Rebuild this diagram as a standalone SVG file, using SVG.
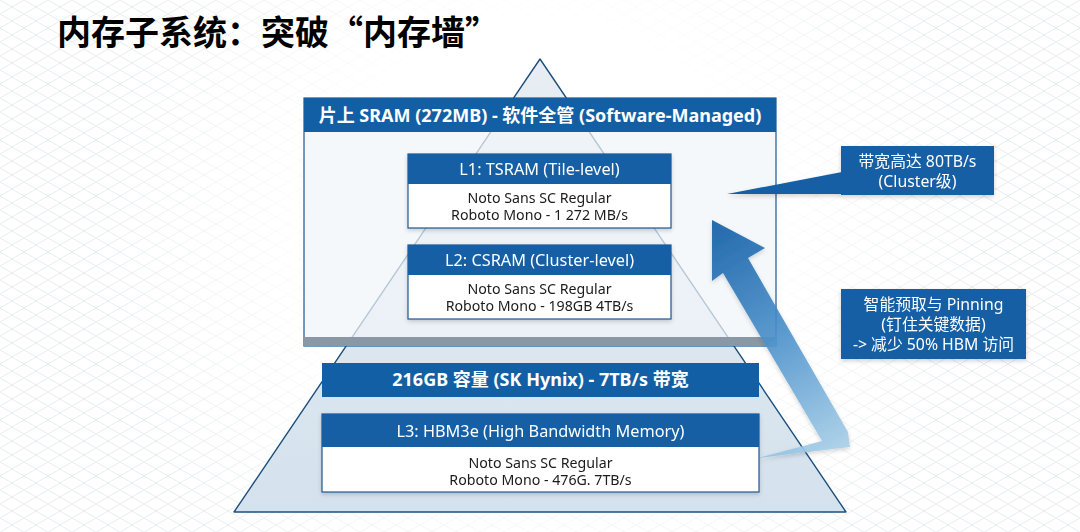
<svg xmlns="http://www.w3.org/2000/svg" width="1080" height="532" viewBox="0 0 1080 532">
<defs>
<style>
.hdr{fill:#135fa5;}
.box{fill:#ffffff;stroke:#1b5690;stroke-width:1.2;}
.t-title{font-family:"Noto Sans CJK SC","Noto Sans",sans-serif;font-weight:700;font-size:34px;fill:#000;}
.t-hb{font-family:"Noto Sans","Noto Sans CJK SC",sans-serif;font-weight:700;font-size:18px;fill:#fff;text-anchor:middle;}
.t-h{font-family:"Noto Sans","Noto Sans CJK SC",sans-serif;font-size:16.3px;fill:#fff;text-anchor:middle;}
.t-b{font-family:"Noto Sans","Noto Sans CJK SC",sans-serif;font-size:14.2px;fill:#1a1a1a;text-anchor:middle;}
.t-c{font-family:"Noto Sans","Noto Sans CJK SC",sans-serif;font-size:15.8px;fill:#fff;text-anchor:middle;}
</style>
<pattern id="grid" width="24" height="14" patternUnits="userSpaceOnUse">
<path d="M0,0 L24,14 M24,0 L0,14" stroke="#e3e7eb" stroke-width="0.8" fill="none"/>
</pattern>
<radialGradient id="fade" cx="540" cy="230" r="560" gradientUnits="userSpaceOnUse">
<stop offset="0.35" stop-color="#000"/>
<stop offset="0.8" stop-color="#fff"/>
</radialGradient>
<mask id="gm"><rect width="1080" height="532" fill="url(#fade)"/></mask>
<linearGradient id="pyr" x1="0" y1="0" x2="0" y2="1">
<stop offset="0" stop-color="#e8eef3"/>
<stop offset="1" stop-color="#d4e2ed"/>
</linearGradient>
<linearGradient id="arr" x1="840" y1="450" x2="715" y2="225" gradientUnits="userSpaceOnUse">
<stop offset="0" stop-color="#a9d0ea"/>
<stop offset="0.5" stop-color="#4d93cc"/>
<stop offset="1" stop-color="#125fa8"/>
</linearGradient>
<filter id="sh" x="-10%" y="-10%" width="120%" height="130%">
<feDropShadow dx="0" dy="2" stdDeviation="2" flood-color="#000" flood-opacity="0.18"/>
</filter>
</defs>

<rect width="1080" height="532" fill="#ffffff"/>
<rect width="1080" height="532" fill="url(#grid)" mask="url(#gm)"/>

<g id="title">
<text class="t-title" x="57" y="45">内存子系统：突破“内存墙”</text>
</g>

<g id="pyramid">
<polygon points="540,59 234,512 846,512" fill="url(#pyr)" stroke="#1d4f7c" stroke-width="1.4" stroke-linejoin="round"/>
</g>

<g id="sram">
<rect x="304" y="98" width="472" height="248" fill="#f1f5f9" fill-opacity="0.72" stroke="#1b5690" stroke-width="1.2"/>
<rect x="304" y="337" width="472" height="9" fill="#8a97a4"/>
<rect x="304" y="98" width="472" height="34" class="hdr"/>
<text class="t-hb" x="540" y="122">片上 SRAM (272MB) - 软件全管 (Software-Managed)</text>
</g>

<g id="l1" filter="url(#sh)">
<rect x="408" y="154" width="263" height="74" class="box"/>
<rect x="408" y="154" width="263" height="30" class="hdr"/>
<text class="t-h" x="539.5" y="175">L1: TSRAM (Tile-level)</text>
<text class="t-b" x="539.5" y="203">Noto Sans SC Regular</text>
<text class="t-b" x="539.5" y="220">Roboto Mono - 1 272 MB/s</text>
</g>

<g id="l2" filter="url(#sh)">
<rect x="408" y="245" width="263" height="74" class="box"/>
<rect x="408" y="245" width="263" height="30" class="hdr"/>
<text class="t-h" x="539.5" y="266">L2: CSRAM (Cluster-level)</text>
<text class="t-b" x="539.5" y="294">Noto Sans SC Regular</text>
<text class="t-b" x="539.5" y="311">Roboto Mono - 198GB 4TB/s</text>
</g>

<g id="connectors">
<polygon points="758,458 822,441 723,273 712,281 712,220 765,248 748,258 848,432 850,447" fill="url(#arr)" fill-opacity="0.9" filter="url(#sh)"/>
</g>

<g id="hbm-band">
<rect x="322" y="363" width="437" height="34" class="hdr"/>
<text class="t-hb" x="540.5" y="386">216GB 容量 (SK Hynix) - 7TB/s 带宽</text>
</g>

<g id="l3" filter="url(#sh)">
<rect x="322" y="414" width="437" height="78" class="box"/>
<rect x="322" y="414" width="437" height="33" class="hdr"/>
<text class="t-h" x="540.5" y="437">L3: HBM3e (High Bandwidth Memory)</text>
<text class="t-b" x="540.5" y="468">Noto Sans SC Regular</text>
<text class="t-b" x="540.5" y="485">Roboto Mono - 476G. 7TB/s</text>
</g>

<g id="callout-bw" filter="url(#sh)">
<polygon points="727,194 842,172 842,194" fill="#135fa5"/>
<rect x="841" y="146" width="153" height="49" class="hdr"/>
<text class="t-c" x="917.5" y="167">带宽高达 80TB/s</text>
<text class="t-c" x="917.5" y="187">(Cluster级)</text>
</g>

<g id="callout-pin" filter="url(#sh)">
<rect x="841" y="289" width="185" height="70" class="hdr"/>
<text class="t-c" x="933.5" y="310">智能预取与 Pinning</text>
<text class="t-c" x="933.5" y="330">(钉住关键数据)</text>
<text class="t-c" x="933.5" y="350">-&gt; 减少 50% HBM 访问</text>
</g>
</svg>
